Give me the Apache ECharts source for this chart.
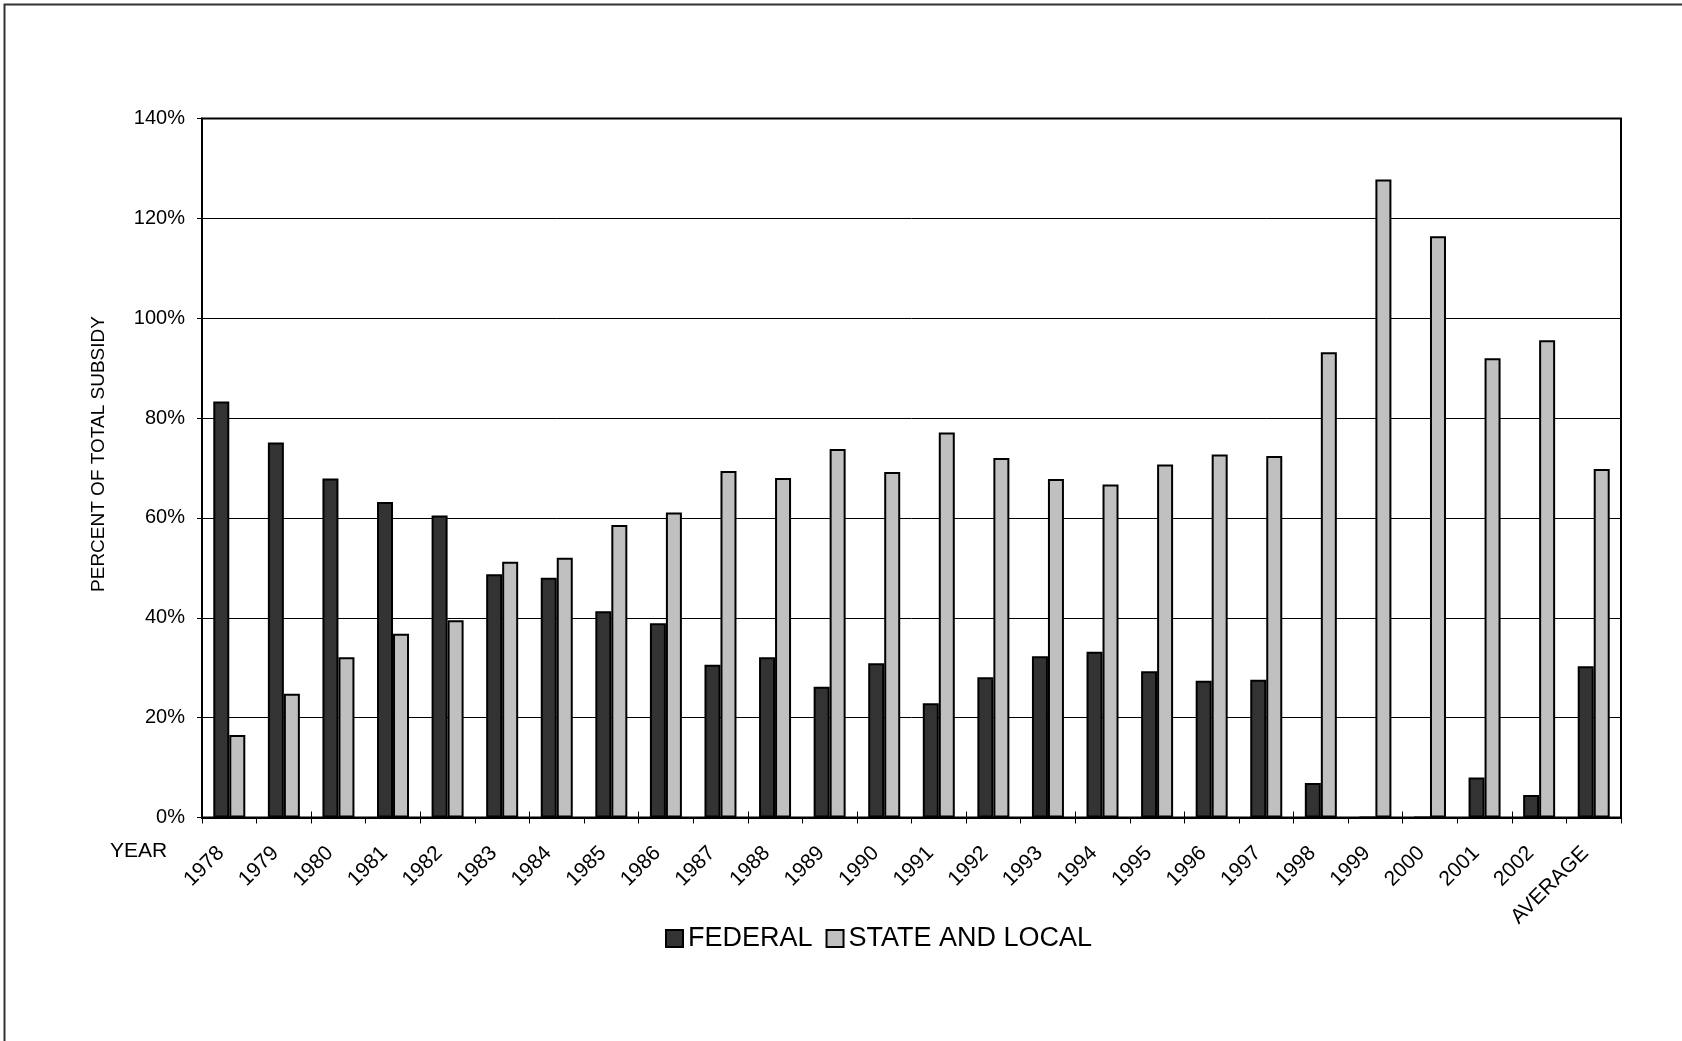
<!DOCTYPE html>
<html>
<head>
<meta charset="utf-8">
<script src="https://cdn.jsdelivr.net/npm/echarts@6/dist/echarts.min.js"></script>
<style>
html,body{margin:0;padding:0;background:#fff;}
#chart{width:1682px;height:1041px;}
</style>
</head>
<body>
<div id="chart"></div>
<script>
const categories = ['1978','1979','1980','1981','1982','1983','1984','1985','1986','1987','1988','1989','1990','1991','1992','1993','1994','1995','1996','1997','1998','1999','2000','2001','2002','AVERAGE'];
const federal = [83.3,75.1,67.9,63.2,60.5,48.7,48.0,41.3,38.9,30.6,32.1,26.2,30.9,22.9,28.1,32.3,33.2,29.3,27.4,27.6,6.9,0,0,8.0,4.5,30.3];
const stateLocal = [16.5,24.8,32.1,36.8,39.5,51.2,52.0,58.6,61.1,69.4,68.0,73.8,69.2,77.1,72.0,67.8,66.7,70.7,72.7,72.4,93.2,127.8,116.4,92.0,95.6,69.8];
const yTicks = { min: 0, max: 140, interval: 20 };

const FONT = '"Liberation Sans", Arial, sans-serif';
const chart = echarts.init(document.getElementById('chart'), null, { renderer: 'canvas' });

chart.setOption({
  backgroundColor: '#ffffff',
  animation: false,
  graphic: [
    { type: 'polyline', shape: { points: [[4.5, 1100], [4.5, 4.5], [1700, 4.5]] },
      style: { stroke: '#333', lineWidth: 2, fill: null }, silent: true },
    { type: 'text', left: 110, top: 841,
      style: { text: 'YEAR', font: '21px ' + FONT, fill: '#000' } },
    { type: 'text', x: 99, y: 454, rotation: Math.PI / 2,
      style: { text: 'PERCENT OF TOTAL SUBSIDY', font: '19px ' + FONT, fill: '#000',
               align: 'center', verticalAlign: 'middle' } }
  ],
  legend: {
    left: 660, top: 920,
    itemWidth: 17, itemHeight: 17, itemGap: 13,
    icon: 'rect',
    itemStyle: { borderColor: '#000', borderWidth: 2 },
    textStyle: { fontFamily: FONT, fontSize: 27, color: '#000' },
    data: ['FEDERAL', 'STATE AND LOCAL']
  },
  grid: {
    left: 202, right: 61, top: 118.5, bottom: 223.5,
    show: true, borderColor: '#000', borderWidth: 2
  },
  xAxis: [{
    type: 'category', data: categories,
    axisLine: { lineStyle: { color: '#000', width: 2 } },
    axisTick: { show: true, length: 6, lineStyle: { color: '#000', width: 1 } },
    axisLabel: { interval: 0, rotate: 45, margin: 24, padding: [0, 12, 0, 0],
                 fontFamily: FONT, fontSize: 21, color: '#000' }
  }, {
    type: 'category', data: categories, position: 'bottom',
    axisLine: { show: false },
    axisTick: { show: true, inside: true, length: 6, lineStyle: { color: '#000', width: 1 } },
    axisLabel: { show: false }
  }],
  yAxis: {
    type: 'value', min: yTicks.min, max: yTicks.max, interval: yTicks.interval,
    axisLine: { show: true, lineStyle: { color: '#000', width: 2 } },
    axisTick: { show: true, length: 5, lineStyle: { color: '#000', width: 1 } },
    axisLabel: { margin: 17, formatter: '{value}%', fontFamily: FONT, fontSize: 20, color: '#000' },
    splitLine: { show: true, lineStyle: { color: '#000', width: 1 } }
  },
  series: [{
    name: 'FEDERAL', type: 'bar', data: federal, xAxisIndex: 0,
    barWidth: 16, barGap: '0%',
    itemStyle: { color: '#333333', borderColor: '#000', borderWidth: 2 }
  }, {
    name: 'STATE AND LOCAL', type: 'bar', data: stateLocal, xAxisIndex: 0,
    barWidth: 16, barGap: '0%',
    itemStyle: { color: '#c0c0c0', borderColor: '#000', borderWidth: 2 }
  }]
});
</script>
</body>
</html>
